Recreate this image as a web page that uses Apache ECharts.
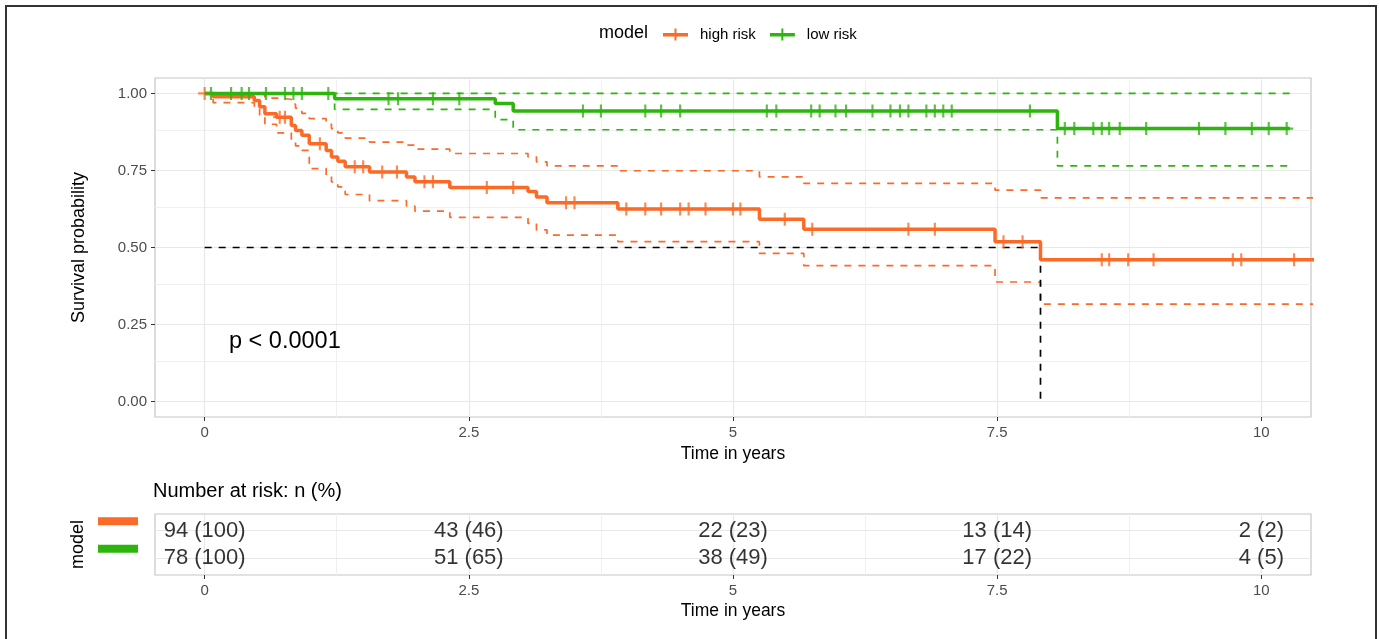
<!DOCTYPE html>
<html>
<head>
<meta charset="utf-8">
<script src="https://cdn.jsdelivr.net/npm/echarts@6/dist/echarts.min.js"></script>
<style>
html,body{margin:0;padding:0;background:#fff;}
#chart{width:1380px;height:639px;}
</style>
</head>
<body>
<div id="chart"></div>
<script>
// ---------- data ----------
var seriesNames = ['high risk', 'low risk'];
var colors = ['#FC6A27', '#2DB50E'];

// high risk (orange) step curve
var highTime  = [0, 0.08, 0.47, 0.52, 0.57, 0.68, 0.82, 0.86, 0.92, 0.99, 1.15, 1.20, 1.26, 1.33, 1.56, 1.91, 1.99, 2.32, 3.06, 3.14, 3.24, 3.91, 5.25, 5.67, 7.48, 7.91, 10.6];
var highSurv  = [1.0, 0.989, 0.977, 0.957, 0.934, 0.923, 0.896, 0.880, 0.864, 0.837, 0.815, 0.794, 0.780, 0.762, 0.745, 0.729, 0.713, 0.695, 0.682, 0.664, 0.645, 0.625, 0.592, 0.559, 0.519, 0.460, 0.460];
var highUpper = [1.0, 1.0, 1.0, 0.995, 0.985, 0.981, 0.965, 0.952, 0.935, 0.918, 0.900, 0.886, 0.872, 0.855, 0.842, 0.832, 0.819, 0.805, 0.794, 0.778, 0.765, 0.749, 0.729, 0.708, 0.686, 0.661, 0.661];
var highLower = [1.0, 0.970, 0.952, 0.930, 0.900, 0.872, 0.845, 0.830, 0.815, 0.756, 0.735, 0.713, 0.697, 0.672, 0.652, 0.634, 0.618, 0.598, 0.578, 0.557, 0.540, 0.519, 0.481, 0.441, 0.388, 0.316, 0.316];
var highCensor = [0, 0.71, 0.76, 1.09, 1.42, 1.50, 1.68, 1.82, 2.08, 2.16, 2.67, 2.92, 3.42, 3.50, 3.99, 4.17, 4.32, 4.50, 4.58, 4.74, 5.00, 5.07, 5.49, 5.75, 6.66, 6.91, 7.56, 7.74, 8.49, 8.56, 8.74, 8.98, 9.73, 9.81, 10.31];

// low risk (green) step curve
var lowTime  = [0, 1.23, 2.75, 2.92, 8.07, 10.27];
var lowSurv  = [1.0, 0.983, 0.967, 0.943, 0.886, 0.886];
var lowUpper = [1.0, 1.0, 1.0, 1.0, 1.0, 1.0];
var lowLower = [1.0, 0.948, 0.915, 0.882, 0.765, 0.765];
var lowCensor = [0.06, 0.25, 0.35, 0.42, 0.58, 0.76, 0.84, 0.92, 1.17, 1.74, 1.83, 2.16, 2.41, 3.58, 3.75, 4.17, 4.32, 4.50, 5.32, 5.41, 5.74, 5.82, 5.97, 6.07, 6.32, 6.49, 6.58, 6.66, 6.83, 6.91, 6.99, 7.07, 7.81, 8.14, 8.23, 8.41, 8.49, 8.56, 8.66, 8.91, 9.41, 9.66, 9.91, 10.07, 10.24];

// median survival (high risk)
var medianTime = 7.91;
var medianSurv = 0.5;

// axes
var xTicks = [0, 2.5, 5, 7.5, 10];
var xMinor = [1.25, 3.75, 6.25, 8.75];
var yTicks = [0, 0.25, 0.5, 0.75, 1];
var yMinor = [0.125, 0.375, 0.625, 0.875];

// number at risk table
var riskTimes = [0, 2.5, 5, 7.5, 10];
var riskHighN   = [94, 43, 22, 13, 2];
var riskHighPct = [100, 46, 23, 14, 2];
var riskLowN    = [78, 51, 38, 17, 4];
var riskLowPct  = [100, 65, 49, 22, 5];

var pText = 'p < 0.0001';

// ---------- helpers ----------
function zip(t, v) { return t.map(function (x, i) { return [x, v[i]]; }); }
function stepValue(t, v, c) {
  var y = v[0];
  for (var i = 0; i < t.length; i++) { if (t[i] <= c) y = v[i]; }
  return y;
}
function censorPts(t, v, cs) { return cs.map(function (c) { return [c, stepValue(t, v, c)]; }); }

var FONT = '"Liberation Sans", Arial, Helvetica, sans-serif';
var plusSymbol = 'path://M5,0L7,0L7,12L5,12Z M0,5L12,5L12,7L0,7Z';
var legendIcon = 'path://M0,4.5L25,4.5L25,8L0,8Z M11.5,0L13.5,0L13.5,12L11.5,12Z';

var XMIN = -0.47, XMAX = 10.47;

function gridLines(xi, yi, xs, ys, color, width) {
  var d = [];
  xs.forEach(function (v) { d.push({ xAxis: v }); });
  ys.forEach(function (v) { d.push({ yAxis: v }); });
  return {
    type: 'line', xAxisIndex: xi, yAxisIndex: yi, data: [], silent: true, z: 0,
    markLine: { z: 0, symbol: 'none', silent: true, label: { show: false }, emphasis: { disabled: true },
      lineStyle: { color: color, width: width, type: 'solid' }, data: d }
  };
}

function stepLine(name, t, v, color, width, dashed, z) {
  return {
    name: name, type: 'line', step: 'end', xAxisIndex: 0, yAxisIndex: 0,
    data: zip(t, v), showSymbol: false, symbol: 'none', z: z, silent: true,
    lineStyle: { color: color, width: width, type: dashed ? [7, 7] : 'solid' },
    itemStyle: { color: color }
  };
}

var xAxisCommon = function (gi) {
  return {
    type: 'value', gridIndex: gi, min: XMIN, max: XMAX,
    axisLine: { show: false, onZero: false },
    axisTick: { show: true, length: 4, customValues: xTicks, lineStyle: { color: '#333', width: 1 } },
    axisLabel: { customValues: xTicks, color: '#4d4d4d', fontSize: 15, margin: 8, fontFamily: FONT,
      formatter: function (v) { return String(v); } },
    splitLine: { show: false },
    name: 'Time in years', nameLocation: 'middle', nameGap: 27,
    nameTextStyle: { fontSize: 17.5, color: '#000', fontFamily: FONT }
  };
};

var option = {
  animation: false,
  textStyle: { fontFamily: FONT },
  legend: {
    data: seriesNames, left: 663, top: 27, itemWidth: 25, itemHeight: 12, itemGap: 14,
    icon: legendIcon, padding: 0,
    textStyle: { fontSize: 15, color: '#000', padding: [0, 0, 0, 7] },
    selectedMode: false
  },
  graphic: [
    { type: 'rect', z: 100, shape: { x: 6, y: 6, width: 1370, height: 700 }, style: { fill: 'none', stroke: '#333', lineWidth: 2 }, silent: true },
    { type: 'text', z: 100, left: 599, top: 24, style: { text: 'model', fontSize: 18, fill: '#000', fontFamily: FONT } },
    { type: 'text', z: 100, left: 229, top: 330, style: { text: pText, fontSize: 23.5, fill: '#000', fontFamily: FONT } },
    { type: 'text', z: 100, left: 153, top: 481, style: { text: 'Number at risk: n (%)', fontSize: 20, fill: '#000', fontFamily: FONT } }
  ],
  grid: [
    { left: 155, top: 78, width: 1156, height: 339, show: true, borderColor: '#c6c6c6', borderWidth: 1.2, backgroundColor: 'transparent' },
    { left: 155, top: 514, width: 1156, height: 61, show: true, borderColor: '#c6c6c6', borderWidth: 1.2, backgroundColor: 'transparent' }
  ],
  xAxis: [xAxisCommon(0), xAxisCommon(1)],
  yAxis: [
    {
      type: 'value', gridIndex: 0, min: -0.05, max: 1.05,
      axisLine: { show: false, onZero: false },
      axisTick: { show: true, length: 4, customValues: yTicks, lineStyle: { color: '#333' } },
      axisLabel: { customValues: yTicks, color: '#4d4d4d', fontSize: 15, margin: 8, fontFamily: FONT,
        formatter: function (v) { return v.toFixed(2); } },
      splitLine: { show: false },
      name: 'Survival probability', nameLocation: 'middle', nameGap: 67, nameRotate: 90,
      nameTextStyle: { fontSize: 18, color: '#000', fontFamily: FONT }
    },
    {
      type: 'value', gridIndex: 1, min: 0.4, max: 2.6,
      axisLine: { show: false, onZero: false },
      axisTick: { show: false },
      axisLabel: {
        customValues: [1, 2], margin: 17, padding: [0, 0, 19, 0],
        formatter: function (v) { return v === 2 ? '{h| }' : '{l| }'; },
        rich: {
          h: { backgroundColor: colors[0], width: 40, height: 8, fontSize: 1 },
          l: { backgroundColor: colors[1], width: 40, height: 8, fontSize: 1 }
        }
      },
      splitLine: { show: false },
      name: 'model', nameLocation: 'middle', nameGap: 67, nameRotate: 90,
      nameTextStyle: { fontSize: 18, color: '#000', fontFamily: FONT }
    }
  ],
  series: [
    gridLines(0, 0, xMinor, yMinor, '#f0f0f0', 1),
    gridLines(0, 0, xTicks, yTicks, '#e8e8e8', 1.2),
    gridLines(1, 1, xMinor, [], '#f0f0f0', 1),
    gridLines(1, 1, xTicks, [1, 2], '#e8e8e8', 1.2),

    stepLine('high risk upper', highTime, highUpper, colors[0], 1.7, true, 3),
    stepLine('high risk lower', highTime, highLower, colors[0], 1.7, true, 3),
    stepLine('low risk upper', lowTime, lowUpper, colors[1], 1.7, true, 3),
    stepLine('low risk lower', lowTime, lowLower, colors[1], 1.7, true, 3),

    {
      name: 'median', type: 'line', xAxisIndex: 0, yAxisIndex: 0, silent: true, z: 4,
      data: [[0, medianSurv], [medianTime, medianSurv], [medianTime, 0]],
      showSymbol: false, symbol: 'none',
      lineStyle: { color: '#000', width: 1.7, type: [7, 7] }
    },

    stepLine('high risk', highTime, highSurv, colors[0], 3.5, false, 5),
    stepLine('low risk', lowTime, lowSurv, colors[1], 3.5, false, 5),

    {
      name: 'high risk censor', type: 'scatter', xAxisIndex: 0, yAxisIndex: 0, silent: true, z: 6,
      symbol: plusSymbol, symbolSize: 13, itemStyle: { color: colors[0] },
      data: censorPts(highTime, highSurv, highCensor)
    },
    {
      name: 'low risk censor', type: 'scatter', xAxisIndex: 0, yAxisIndex: 0, silent: true, z: 6,
      symbol: plusSymbol, symbolSize: 13, itemStyle: { color: colors[1] },
      data: censorPts(lowTime, lowSurv, lowCensor)
    },

    {
      name: 'risk high', type: 'scatter', xAxisIndex: 1, yAxisIndex: 1, silent: true, symbolSize: 0, z: 6,
      data: riskTimes.map(function (t, i) { return [t, 2, riskHighN[i] + ' (' + riskHighPct[i] + ')']; }),
      label: { show: true, position: 'inside', fontSize: 22, color: '#000', fontFamily: FONT,
        formatter: function (p) { return p.value[2]; } }
    },
    {
      name: 'risk low', type: 'scatter', xAxisIndex: 1, yAxisIndex: 1, silent: true, symbolSize: 0, z: 6,
      data: riskTimes.map(function (t, i) { return [t, 1, riskLowN[i] + ' (' + riskLowPct[i] + ')']; }),
      label: { show: true, position: 'inside', fontSize: 22, color: '#000', fontFamily: FONT,
        formatter: function (p) { return p.value[2]; } }
    }
  ]
};

var chart = echarts.init(document.getElementById('chart'), null, { renderer: 'canvas' });
chart.setOption(option);
</script>
</body>
</html>
